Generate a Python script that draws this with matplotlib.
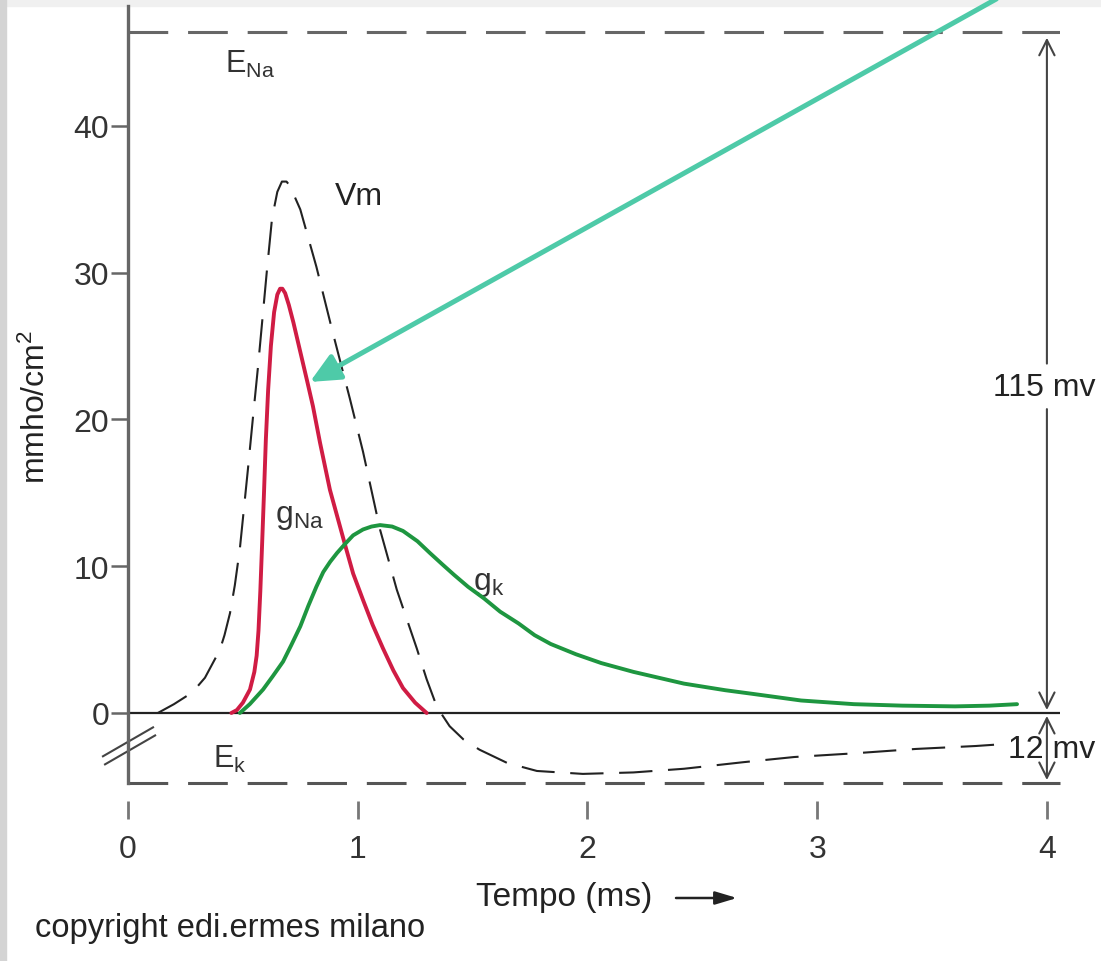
import matplotlib
matplotlib.use('Agg')
import matplotlib.pyplot as plt
from matplotlib.patches import Rectangle

plt.rcParams['font.family'] = ['Liberation Sans', 'DejaVu Sans']
plt.rcParams['mathtext.fontset'] = 'custom'
plt.rcParams['mathtext.rm'] = 'Liberation Sans'
plt.rcParams['mathtext.it'] = 'Liberation Sans'

# values (time in ms, conductance in mmho/cm2)
time_vm = [0.13, 0.20, 0.28, 0.335, 0.40, 0.42, 0.444, 0.465, 0.487, 0.522,
           0.545, 0.566, 0.605, 0.627, 0.65, 0.67, 0.69, 0.705, 0.75, 0.82,
           0.89, 0.966, 1.023, 1.097, 1.17, 1.257, 1.30, 1.345, 1.40, 1.46,
           1.53, 1.65, 1.78, 1.98, 2.2, 2.42, 2.68, 2.9, 3.16, 3.43,
           3.69, 3.83]
vm = [0.0, 0.6, 1.4, 2.4, 4.3, 5.3, 6.8, 8.7, 11.2, 16.6,
      20.3, 23.6, 30.2, 33.7, 35.5, 36.2, 36.2, 35.9, 34.3, 30.4,
      26.0, 21.4, 17.8, 12.5, 8.4, 4.4, 2.3, 0.4, -0.9, -1.8,
      -2.5, -3.4, -3.95, -4.15, -4.05, -3.8, -3.35, -3.0, -2.75, -2.45,
      -2.25, -2.1]

time_gna = [0.45, 0.474, 0.50, 0.531, 0.55, 0.56, 0.568, 0.576, 0.584, 0.592,
            0.60, 0.61, 0.622, 0.636, 0.65, 0.662, 0.672, 0.684, 0.70, 0.72,
            0.75, 0.78, 0.805, 0.836, 0.879, 0.944, 0.98, 1.023, 1.065, 1.11,
            1.155, 1.197, 1.25, 1.30]
gna = [0.0, 0.2, 0.7, 1.6, 2.8, 3.9, 5.6, 8.3, 11.6, 15.0,
       18.6, 22.0, 25.0, 27.3, 28.5, 28.9, 28.9, 28.6, 27.8, 26.6,
       24.6, 22.6, 20.9, 18.4, 15.2, 11.5, 9.5, 7.7, 6.0, 4.4,
       2.9, 1.7, 0.7, 0.0]

time_gk = [0.487, 0.53, 0.588, 0.63, 0.675, 0.71, 0.75, 0.785, 0.82, 0.85,
           0.88, 0.91, 0.944, 0.98, 1.023, 1.06, 1.097, 1.15, 1.197, 1.26,
           1.314, 1.37, 1.42, 1.48, 1.55, 1.62, 1.70, 1.77, 1.84, 1.95,
           2.06, 2.2, 2.42, 2.6, 2.72, 2.93, 3.16, 3.37, 3.6, 3.75,
           3.87]
gk = [0.0, 0.6, 1.6, 2.5, 3.5, 4.6, 5.9, 7.3, 8.6, 9.6,
      10.3, 10.9, 11.5, 12.1, 12.5, 12.7, 12.8, 12.7, 12.4, 11.7,
      10.9, 10.1, 9.4, 8.6, 7.8, 6.9, 6.1, 5.3, 4.7, 4.0,
      3.4, 2.8, 2.0, 1.55, 1.3, 0.85, 0.6, 0.5, 0.45, 0.5,
      0.6]

E_NA = 46.4
E_K = -4.77
xticks = [0, 1, 2, 3, 4]
yticks = [0, 10, 20, 30, 40]

W, H = 1101, 962


def fx(px):
    return px / W


def fy(py):
    return 1 - py / H


fig = plt.figure(figsize=(W / 100, H / 100), dpi=100)
fig.add_artist(Rectangle((0, fy(7)), 1, 7 / H, transform=fig.transFigure,
                         color='#f0f0f0', zorder=0))
fig.add_artist(Rectangle((0, 0), 6 / W, 1, transform=fig.transFigure,
                         color='#d4d4d4', zorder=0))

ax = fig.add_axes([fx(128), fy(784), 932 / W, 777 / H])
ax.set_xlim(0, 4.057)
ax.set_ylim(E_K, 48.16)
ax.patch.set_alpha(0)

for s in ['top', 'right']:
    ax.spines[s].set_visible(False)
ax.spines['bottom'].set_position(('outward', 13))
ax.spines['bottom'].set_visible(False)
ax.spines['left'].set_color('#666666')
ax.spines['left'].set_linewidth(2.4)

ax.set_xticks(xticks)
ax.set_yticks(yticks)
ax.tick_params(axis='x', length=13, width=2, color='#777777', pad=11,
               labelsize=23, labelcolor='#333333')
ax.tick_params(axis='y', length=12.5, width=1.8, color='#666666', pad=1,
               labelsize=23, labelcolor='#333333')

# reference lines
ax.axhline(0, color='#222222', lw=1.6, zorder=2)
ax.axhline(E_NA, color='#666666', lw=2.2, linestyle=(0, (13, 6.5)), zorder=2)
ax.axhline(E_K, color='#555555', lw=2.2, linestyle=(0, (13, 6.5)),
           clip_on=False, zorder=2)

# curves
ax.plot(time_vm, vm, color='#222222', lw=1.5, linestyle=(0, (16, 7.5)),
        clip_on=False, zorder=3)
ax.plot(time_gna, gna, color='#d01c44', lw=2.8, zorder=4,
        solid_joinstyle='round', solid_capstyle='round')
ax.plot(time_gk, gk, color='#1e9640', lw=2.8, zorder=4,
        solid_joinstyle='round', solid_capstyle='round')

# axis break
ax.plot([-0.109, 0.109], [-2.95, -0.98], color='#444444', lw=1.5, clip_on=False)
ax.plot([-0.10, 0.118], [-3.5, -1.53], color='#444444', lw=1.5, clip_on=False)

# labels on the curves
ax.text(0.422, 43.7, r'$\mathregular{E_{Na}}$', fontsize=22, color='#333333',
        va='baseline')
ax.text(0.90, 34.7, 'Vm', fontsize=23, color='#222222', va='baseline')
ax.text(0.64, 13.0, r'$\mathregular{g_{Na}}$', fontsize=23, color='#333333',
        va='baseline')
ax.text(1.50, 8.45, r'$\mathregular{g_{k}}$', fontsize=23, color='#333333',
        va='baseline')
ax.text(0.37, -3.68, r'$\mathregular{E_{k}}$', fontsize=22, color='#333333',
        va='baseline')

# potential span arrows
arr = dict(arrowstyle='->,head_length=0.5,head_width=0.25', color='#444444',
           lw=1.5, shrinkA=0, shrinkB=0, mutation_scale=22)
ax.annotate('', xy=(4.0, E_NA - 0.4), xytext=(4.0, 23.8), arrowprops=arr,
            annotation_clip=False)
ax.annotate('', xy=(4.0, 0.2), xytext=(4.0, 20.7), arrowprops=arr,
            annotation_clip=False)
arr2 = dict(arr, arrowstyle='<->,head_length=0.5,head_width=0.25')
ax.annotate('', xy=(4.0, E_K + 0.2), xytext=(4.0, -0.2), arrowprops=arr2,
            annotation_clip=False)
ax.text(3.765, 22.2, '115 mv', fontsize=23, color='#222222', va='center',
        clip_on=False)
ax.text(3.83, -2.45, '12 mv', fontsize=23, color='#222222', va='center',
        clip_on=False)

# teal pointer
ax.annotate('', xy=(0.792, 22.55), xytext=(3.78, 48.64),
            arrowprops=dict(arrowstyle='-|>,head_length=0.75,head_width=0.35',
                            color='#4ecaa8', lw=3.6, shrinkA=0, shrinkB=0,
                            mutation_scale=24),
            annotation_clip=False, zorder=6)

# axis titles
fig.text(fx(36), fy(407), 'mmho/cm$^2$', rotation=90, ha='center', va='center',
         fontsize=23, color='#222222')
fig.text(fx(476), fy(898), 'Tempo (ms)', ha='left', va='center', fontsize=24,
         color='#222222')
ax.annotate('', xy=(fx(737), fy(899)), xytext=(fx(676), fy(899)),
            xycoords='figure fraction', textcoords='figure fraction',
            arrowprops=dict(arrowstyle='-|>,head_length=0.6,head_width=0.18',
                            color='#222222', lw=1.8, shrinkA=0, shrinkB=0,
                            mutation_scale=22))
fig.text(fx(35), fy(928), 'copyright edi.ermes milano', ha='left', va='center',
         fontsize=23.5, color='#222222')

fig.savefig('out.png', dpi=100)
